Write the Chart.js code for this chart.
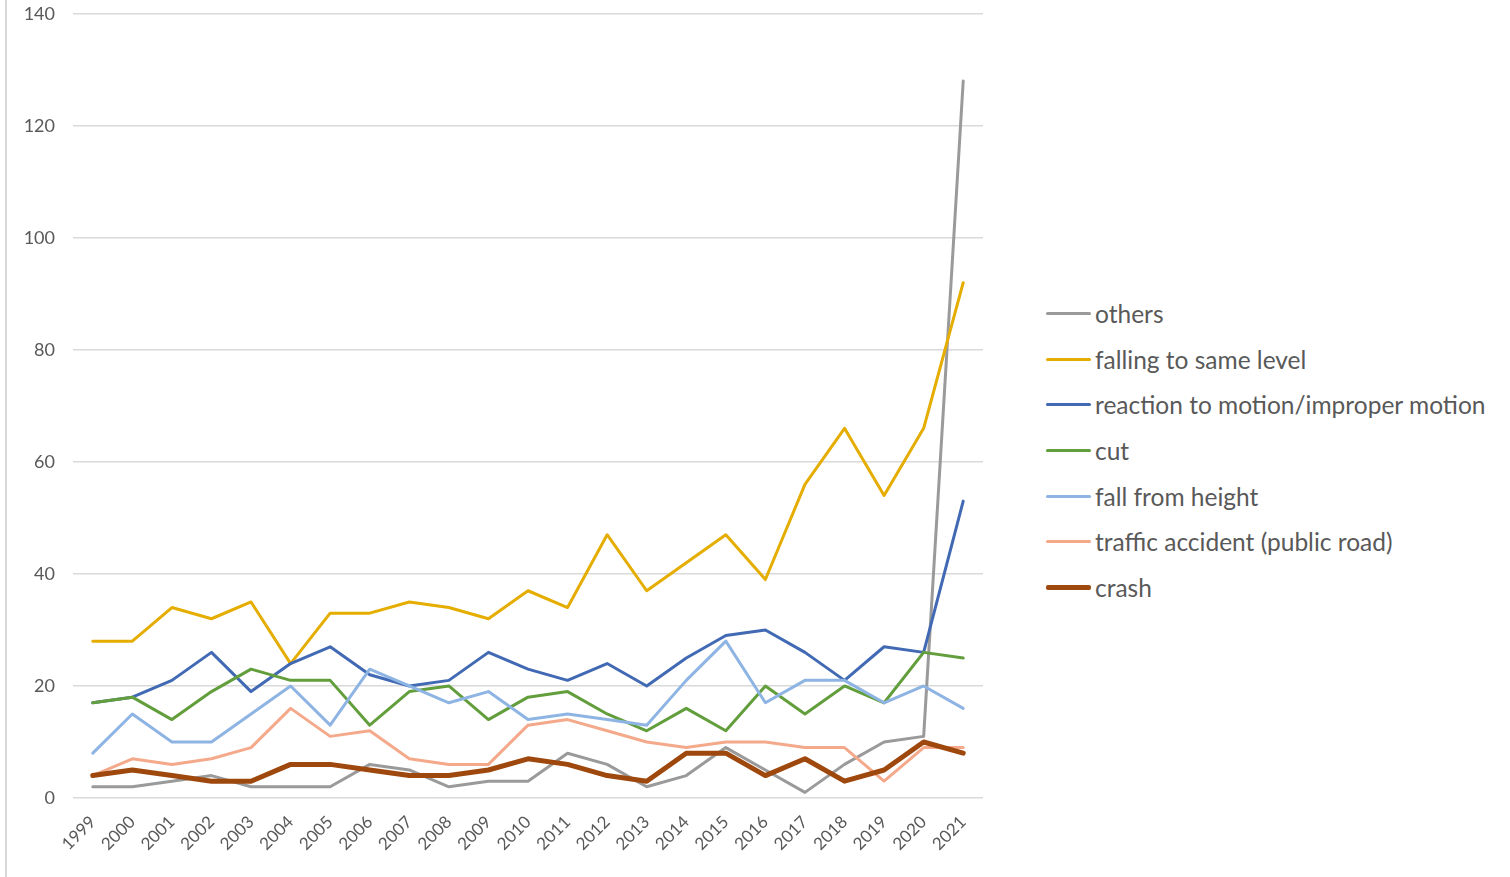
<!DOCTYPE html>
<html>
<head>
<meta charset="utf-8">
<title>Accidents by type, 1999-2021</title>
<script src="https://cdn.jsdelivr.net/npm/chart.js@4/dist/chart.umd.min.js"></script>
<style>
    html, body { margin: 0; padding: 0; background: #fff; }
    body { width: 1510px; height: 877px; position: relative; overflow: hidden; font-family: Lato, "Open Sans", sans-serif; }
    .frame-edge { position: absolute; left: 5px; top: 0; width: 2px; height: 877px; background: #d9d9d9; }
    /* shifted up: chart.js keeps ~28px above the plot for the top tick label */
    .chart-box { position: absolute; left: 0; top: -15px; width: 1000px; height: 892px; }
    #legend { position: absolute; left: 1046px; top: 291px; margin: 0; padding: 0; list-style: none; }
    #legend li { display: flex; align-items: center; height: 45.6px; color: #595959; font-size: 24.5px; white-space: nowrap; }
    #legend .swatch { display: inline-block; width: 45px; margin-right: 4px; border-radius: 2px; }
</style>
</head>
<body>
<div class="frame-edge"></div>
<div class="chart-box"><canvas id="accidentChart"></canvas></div>
<ul id="legend"></ul>

<script>
const years = ['1999', '2000', '2001', '2002', '2003', '2004', '2005', '2006', '2007', '2008', '2009', '2010',
               '2011', '2012', '2013', '2014', '2015', '2016', '2017', '2018', '2019', '2020', '2021'];

const others          = [2, 2, 3, 4, 2, 2, 2, 6, 5, 2, 3, 3, 8, 6, 2, 4, 9, 5, 1, 6, 10, 11, 128];
const fallingSame     = [28, 28, 34, 32, 35, 24, 33, 33, 35, 34, 32, 37, 34, 47, 37, 42, 47, 39, 56, 66, 54, 66, 92];
const reactionMotion  = [17, 18, 21, 26, 19, 24, 27, 22, 20, 21, 26, 23, 21, 24, 20, 25, 29, 30, 26, 21, 27, 26, 53];
const cut             = [17, 18, 14, 19, 23, 21, 21, 13, 19, 20, 14, 18, 19, 15, 12, 16, 12, 20, 15, 20, 17, 26, 25];
const fallFromHeight  = [8, 15, 10, 10, 15, 20, 13, 23, 20, 17, 19, 14, 15, 14, 13, 21, 28, 17, 21, 21, 17, 20, 16];
const trafficAccident = [4, 7, 6, 7, 9, 16, 11, 12, 7, 6, 6, 13, 14, 12, 10, 9, 10, 10, 9, 9, 3, 9, 9];
const crash           = [4, 5, 4, 3, 3, 6, 6, 5, 4, 4, 5, 7, 6, 4, 3, 8, 8, 4, 7, 3, 5, 10, 8];

const yTicks = [0, 20, 40, 60, 80, 100, 120, 140];

function series(label, data, color, width, order) {
    return {
        label: label,
        data: data,
        borderColor: color,
        backgroundColor: color,
        borderWidth: width,
        pointRadius: 0,
        pointHoverRadius: 0,
        tension: 0,
        borderJoinStyle: 'round',
        borderCapStyle: 'round',
        order: order
    };
}

// legend drawn as html list, built from the datasets
const htmlLegend = {
    id: 'htmlLegend',
    afterUpdate(chart) {
        const ul = document.getElementById('legend');
        ul.innerHTML = '';
        chart.data.datasets.forEach(ds => {
            const li = document.createElement('li');
            const sw = document.createElement('span');
            sw.className = 'swatch';
            sw.style.background = ds.borderColor;
            sw.style.height = ds.borderWidth + 'px';
            li.appendChild(sw);
            li.appendChild(document.createTextNode(ds.label));
            ul.appendChild(li);
        });
    }
};

document.addEventListener('DOMContentLoaded', function() {
    const ctx = document.getElementById('accidentChart').getContext('2d');
    new Chart(ctx, {
        type: 'line',
        data: {
            labels: years,
            datasets: [
                series('others', others, '#9a9a9a', 3, 7),
                series('falling to same level', fallingSame, '#e5ad00', 3, 6),
                series('reaction to motion/improper motion', reactionMotion, '#4169b4', 3, 5),
                series('cut', cut, '#639e3d', 3, 4),
                series('fall from height', fallFromHeight, '#8eb4e3', 3, 3),
                series('traffic accident (public road)', trafficAccident, '#f4a98b', 3, 2),
                series('crash', crash, '#9e480e', 5, 1)
            ]
        },
        options: {
            responsive: true,
            maintainAspectRatio: false,
            animation: false,
            layout: {
                padding: { top: 0, right: 17, bottom: 0, left: 0 }
            },
            plugins: {
                legend: { display: false },
                tooltip: { enabled: false }
            },
            scales: {
                x: {
                    offset: true,
                    grid: { display: false },
                    border: { display: false },
                    ticks: {
                        autoSkip: false,
                        maxRotation: 45,
                        minRotation: 45,
                        padding: 6,
                        color: '#595959',
                        font: { family: 'Lato', size: 17 }
                    },
                    afterFit: scale => { scale.height = 79; }
                },
                y: {
                    min: 0,
                    max: 140,
                    afterBuildTicks: scale => { scale.ticks = yTicks.map(v => ({ value: v })); },
                    grid: { color: '#d9d9d9', lineWidth: 1.5, drawTicks: false },
                    border: { display: false },
                    ticks: {
                        padding: 18,
                        color: '#595959',
                        font: { family: 'Lato', size: 18 }
                    },
                    afterFit: scale => { scale.width = 73; }
                }
            }
        },
        plugins: [htmlLegend]
    });
});
</script>
</body>
</html>
